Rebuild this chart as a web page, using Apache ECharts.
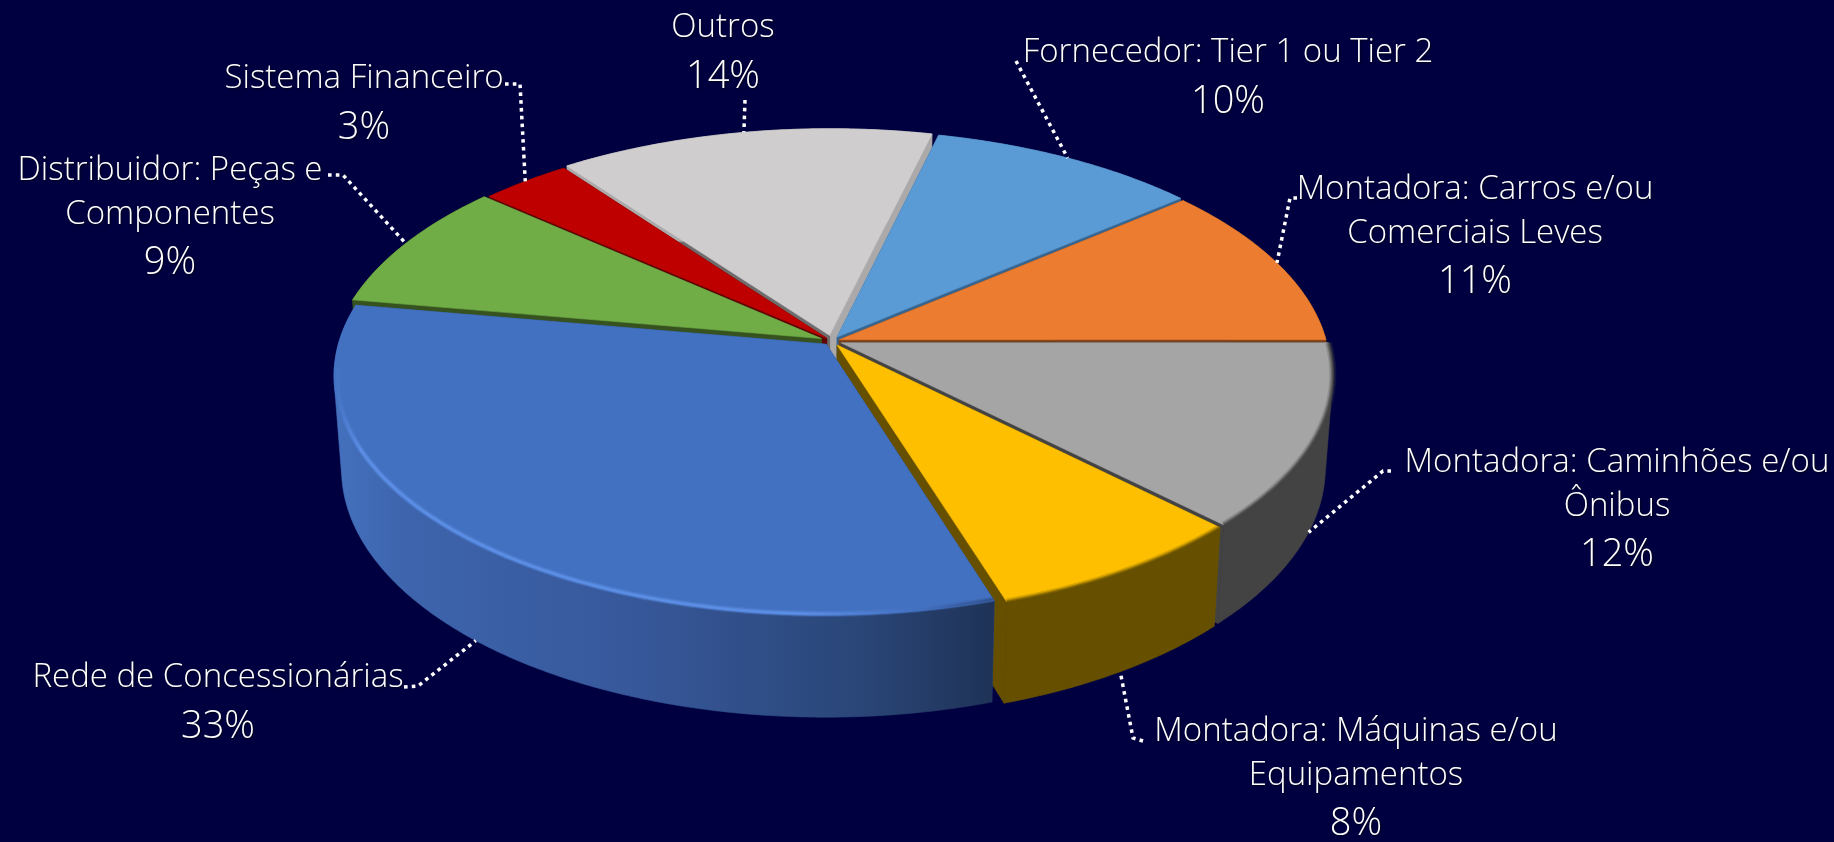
<!DOCTYPE html>
<html><head><meta charset="utf-8">
<style>html,body{margin:0;padding:0;background:#000040}#c{width:1834px;height:842px}</style>
<script src="https://cdn.jsdelivr.net/npm/echarts@6/dist/echarts.min.js"></script></head>
<body><div id="c"></div>
<script>
// ---- data ----
const categories = ['Montadora: Carros e/ou\nComerciais Leves','Fornecedor: Tier 1 ou Tier 2','Outros','Sistema Financeiro','Distribuidor: Peças e\nComponentes','Rede de Concessionárias','Montadora: Máquinas e/ou\nEquipamentos','Montadora: Caminhões e/ou\nÔnibus'];
const values = [11.1,10.1,14.0,3.4,8.7,32.6,7.7,12.4];
// ---- styles ----
const topColors = ['#EB7C30','#5B9BD5','#CFCDCD','#BE0000','#70AD47','#4371C1','#FDBF00','#A5A5A5'];
const wallColors = ['#7A4018','#36658F','#ABA9A9','#5E0000','#35521F','#2F4F8C','#665000','#434343'];
const endWallColors = ['#7A4018','#36658F','#6E6C6C','#5E0000','#35521F','#2F4F8C','#665000','#434343'];
const paintOrder = [2,1,3,0,4,7,6,5];
const explode = [0.016,0.02,0.024,0.016,0.024,0.018,0.02,0.02];
// ---- layout ----
const pie = {cx:832,cy:341,rx:487,ry:235,k:0.13,depth:92,bottomScale:0.985};
const labelPos = [[1475,190],[1228,53],[723,28],[364,79],[170,171],[218,678],[1356,732],[1617,463]];
const leaderStart = [[[1297,198],[1290,198]],[[1016,61]],[[745,100]],[[505,84],[520,84]],[[328,175],[343,175]],[[404,687],[418,686]],[[1143,741],[1133,738]],[[1391,471],[1383,471]]];
const font = '300 33px "Open Sans"', fontPct = '300 38px "Open Sans"';
const total = values.reduce((a,b)=>a+b,0);
const startA = []; let acc = 0; values.forEach((v,i)=>{startA[i]=acc/total*Math.PI*2; acc+=v;});
const endA = i => startA[i]+values[i]/total*Math.PI*2;
function proj(r,a,e,mid,bottom){
  const px=r*Math.cos(a)+e*Math.cos(mid), py=r*Math.sin(a)+e*Math.sin(mid);
  const w=1+pie.k*py, s=bottom?pie.bottomScale:1;
  return [pie.cx+pie.rx*px/w*s, pie.cy-pie.ry*py/w*s+(bottom?pie.depth/w:0)];
}
function arc(a0,a1,r,e,mid,bottom){
  const n=Math.max(4,Math.ceil((a1-a0)/0.01)), pts=[];
  for(let j=0;j<=n;j++) pts.push(proj(r,a0+(a1-a0)*j/n,e,mid,bottom));
  return pts;
}
function hull(points){
  const p=points.slice().sort((a,b)=>a[0]-b[0]||a[1]-b[1]);
  const cross=(o,a,b)=>(a[0]-o[0])*(b[1]-o[1])-(a[1]-o[1])*(b[0]-o[0]);
  const half=list=>{const h=[];list.forEach(q=>{while(h.length>1&&cross(h[h.length-2],h[h.length-1],q)<=0)h.pop();h.push(q);});h.pop();return h;};
  return half(p).concat(half(p.slice().reverse()));
}
function poly(points,fill){return {type:'polygon',shape:{points},style:{fill,stroke:fill,lineWidth:0.6}};}
function sliceItem(params,api){
  const i=api.value(1), a0=startA[i], a1=a0+api.value(0)/total*Math.PI*2, mid=(a0+a1)/2, e=explode[i];
  const A=proj(0,0,e,mid,false), Ab=proj(0,0,e,mid,true);
  const c=[];
  [[a0,wallColors],[a1,endWallColors]].forEach(([a,cols])=>{
    c.push(poly([A,proj(1,a,e,mid,false),proj(1,a,e,mid,true),Ab],cols[i]));
  });
  const topArc=arc(a0,a1,1,e,mid,false), botArc=arc(a0,a1,1,e,mid,true);
  let wallFill=wallColors[i];
  if(i===5){wallFill={type:'linear',global:true,x:333,y:0,x2:990,y2:0,colorStops:[{offset:0,color:'#4470BD'},{offset:0.12,color:'#3D64AC'},{offset:0.45,color:'#37589B'},{offset:0.8,color:'#2A4678'},{offset:1,color:'#1F3358'}]};}
  // outer wall: outline of the swept rim, so the silhouette joins the top and bottom rims
  c.push(poly(hull(topArc.concat(botArc)),wallFill));
  c.push(poly([A].concat(topArc),topColors[i]));
  // bevel along the front part of the rim
  if(i===5){
    const rim=arc(Math.PI*1.03,a1,0.995,e,mid,false);
    const rimFill={type:'linear',x:0,y:0,x2:1,y2:0,colorStops:[{offset:0,color:'#4371C1'},{offset:0.04,color:'#5C8FE6'},{offset:0.7,color:'#5C8FE6'},{offset:0.88,color:'#4371C1'},{offset:1,color:'#2F4F8C'}]};
    [[6,0.3],[3.5,0.55],[1.8,0.9]].forEach(([w,o])=>c.push({type:'polyline',shape:{points:rim},style:{fill:'none',stroke:rimFill,lineWidth:w,opacity:o}}));
  } else if(i===6||i===7){
    const rim=arc(a0,a1,1,e,mid,false);
    [[7,0.25],[4,0.4],[2,0.6]].forEach(([w,o])=>c.push({type:'polyline',shape:{points:rim},style:{fill:'none',stroke:wallColors[i],lineWidth:w,opacity:o}}));
  }
  return {type:'group',children:c};
}
function labelItem(params,api){
  const i=api.value(0), mid=(startA[i]+endA(i))/2, front=Math.sin(mid)<-0.1;
  const end=proj(1,mid,explode[i],mid,front);
  const pts=leaderStart[i].concat([end]);
  const c=[{type:'polyline',shape:{points:pts},style:{fill:'none',stroke:'#fff',lineWidth:3.5,lineDash:[3.6,4.2]}}];
  const lines=categories[i].split('\n'); let y=labelPos[i][1];
  const sh={fill:'#fff',textShadowColor:'rgba(0,0,0,0.6)',textShadowBlur:2,textShadowOffsetX:1,textShadowOffsetY:1};
  lines.forEach((t,j)=>{ if(j) y+=43.5;
    c.push({type:'text',style:Object.assign({text:t,x:labelPos[i][0],y,align:'center',verticalAlign:'middle',font},sh)});
  });
  c.push({type:'text',style:Object.assign({text:Math.round(values[i]/total*100)+'%',x:labelPos[i][0],y:y+49,align:'center',verticalAlign:'middle',font:fontPct},sh)});
  return {type:'group',children:c};
}
const chart=echarts.init(document.getElementById('c'),null,{renderer:'canvas'});
chart.setOption({
  backgroundColor:'#000040',animation:false,
  series:[
    {type:'custom',coordinateSystem:'none',renderItem:sliceItem,data:paintOrder.map(i=>[values[i],i]),silent:true,z:2},
    {type:'custom',coordinateSystem:'none',renderItem:labelItem,data:categories.map((c,i)=>[i]),silent:true,z:3}
  ]
});
</script></body></html>
